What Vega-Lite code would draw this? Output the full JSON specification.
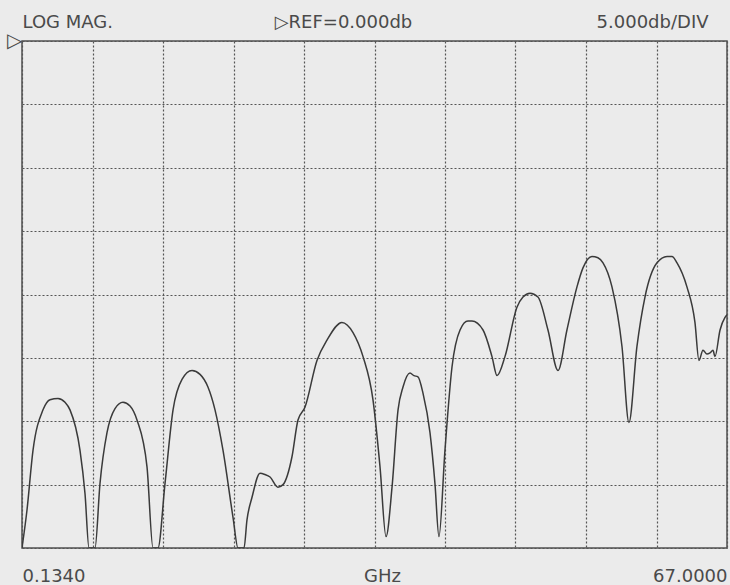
{
  "$schema": "https://vega.github.io/schema/vega-lite/v6.json",
  "width": 705,
  "height": 507,
  "autosize": {"type": "none"},
  "padding": {"left": 22, "top": 41, "right": 3, "bottom": 37},
  "background": "#ebebeb",
  "config": {
    "view": {"stroke": "#505050", "strokeWidth": 1.5, "fill": "#ebebeb"},
    "axis": {"labelFont": "DejaVu Sans", "titleFont": "DejaVu Sans", "labelColor": "#4a4a4a", "titleColor": "#4a4a4a"}
  },
  "data": {"values": [
    {"f": 0.134, "db": -40}, {"f": 0.608, "db": -37.0}, {"f": 1.177, "db": -32.3}, {"f": 2.126, "db": -29.1},
    {"f": 2.79, "db": -28.3}, {"f": 3.548, "db": -28.2}, {"f": 4.21, "db": -28.5}, {"f": 4.687, "db": -29.1},
    {"f": 5.635, "db": -32.3}, {"f": 6.109, "db": -35.7}, {"f": 6.489, "db": -40}, {"f": 7.058, "db": -40},
    {"f": 7.532, "db": -34.9}, {"f": 8.196, "db": -30.9}, {"f": 8.955, "db": -29.0}, {"f": 9.713, "db": -28.5},
    {"f": 10.38, "db": -28.8}, {"f": 11.04, "db": -29.9}, {"f": 11.99, "db": -33.6}, {"f": 12.56, "db": -40},
    {"f": 13.03, "db": -40}, {"f": 13.70, "db": -34.9}, {"f": 14.46, "db": -29.1}, {"f": 15.31, "db": -26.7},
    {"f": 16.26, "db": -26.0}, {"f": 17.02, "db": -26.3}, {"f": 17.77, "db": -27.3}, {"f": 18.44, "db": -29.1},
    {"f": 19.20, "db": -32.3}, {"f": 20.15, "db": -37.6}, {"f": 20.62, "db": -40}, {"f": 21.19, "db": -40},
    {"f": 21.47, "db": -37.8}, {"f": 21.95, "db": -36.0}, {"f": 22.71, "db": -34.1}, {"f": 23.18, "db": -34.2},
    {"f": 23.66, "db": -34.4}, {"f": 24.41, "db": -35.2}, {"f": 24.89, "db": -35.0}, {"f": 25.74, "db": -32.8},
    {"f": 26.31, "db": -29.9}, {"f": 26.97, "db": -28.9}, {"f": 28.11, "db": -25.2}, {"f": 29.06, "db": -23.6},
    {"f": 30.48, "db": -22.2}, {"f": 31.53, "db": -23.0}, {"f": 32.48, "db": -24.9}, {"f": 33.42, "db": -28.3},
    {"f": 34.09, "db": -33.6}, {"f": 34.66, "db": -39.1}, {"f": 35.23, "db": -35.2}, {"f": 35.80, "db": -29.1},
    {"f": 36.27, "db": -27.3}, {"f": 36.93, "db": -26.2}, {"f": 37.31, "db": -26.4}, {"f": 37.69, "db": -26.5},
    {"f": 38.17, "db": -27.8}, {"f": 38.83, "db": -30.9}, {"f": 39.30, "db": -34.9}, {"f": 39.68, "db": -39.1},
    {"f": 40.25, "db": -32.3}, {"f": 40.92, "db": -25.7}, {"f": 41.68, "db": -22.8}, {"f": 42.43, "db": -22.1},
    {"f": 42.81, "db": -22.1}, {"f": 43.86, "db": -22.8}, {"f": 44.71, "db": -24.9}, {"f": 45.19, "db": -26.4},
    {"f": 45.94, "db": -24.9}, {"f": 47.08, "db": -21.0}, {"f": 47.65, "db": -20.2}, {"f": 48.32, "db": -19.9},
    {"f": 49.07, "db": -20.2}, {"f": 50.02, "db": -22.8}, {"f": 50.97, "db": -26.0}, {"f": 51.82, "db": -22.8},
    {"f": 52.77, "db": -19.4}, {"f": 53.34, "db": -17.9}, {"f": 54.19, "db": -17.0}, {"f": 54.76, "db": -17.1},
    {"f": 55.24, "db": -17.5}, {"f": 56.09, "db": -19.4}, {"f": 57.04, "db": -24.1}, {"f": 57.70, "db": -30.1},
    {"f": 58.46, "db": -24.1}, {"f": 59.22, "db": -20.2}, {"f": 60.36, "db": -17.5}, {"f": 61.31, "db": -17.0},
    {"f": 61.78, "db": -17.0}, {"f": 62.26, "db": -17.5}, {"f": 63.20, "db": -19.4}, {"f": 63.96, "db": -22.2},
    {"f": 64.34, "db": -25.2}, {"f": 64.72, "db": -24.4}, {"f": 65.10, "db": -24.7}, {"f": 65.39, "db": -24.6},
    {"f": 65.67, "db": -24.4}, {"f": 65.86, "db": -24.9}, {"f": 66.34, "db": -22.8}, {"f": 66.81, "db": -21.8},
    {"f": 67.0, "db": -21.6}
  ]},
  "layer": [
    {
      "mark": {"type": "line", "color": "#3a3a3a", "strokeWidth": 1.5, "clip": true, "interpolate": "monotone"},
      "encoding": {
        "x": {
          "field": "f", "type": "quantitative",
          "scale": {"domain": [0.134, 67], "nice": false, "zero": false},
          "axis": {
            "orient": "bottom",
            "values": [0.134, 6.8206, 13.5072, 20.1938, 26.8804, 33.567, 40.2536, 46.9402, 53.6268, 60.3134, 67.0],
            "labelExpr": "datum.value < 1 ? '0.1340' : datum.value > 66.5 ? '67.0000' : ''",
            "labelAlign": {"expr": "datum.value < 1 ? 'left' : 'right'"},
            "labelFlush": false,
            "labelOverlap": false,
            "labelBaseline": "alphabetic",
            "labelFontSize": 18,
            "labelPadding": 33,
            "ticks": false,
            "domain": false,
            "grid": true,
            "gridColor": "#555555",
            "gridDash": [2, 2],
            "gridWidth": 1.2,
            "title": "GHz",
            "titleFontSize": 18,
            "titleFontWeight": "normal",
            "titleBaseline": "alphabetic",
            "titleAlign": "center",
            "titleAnchor": null,
            "titleX": 360,
            "titleY": 33
          }
        },
        "y": {
          "field": "db", "type": "quantitative",
          "scale": {"domain": [-40, 0], "nice": false, "zero": false},
          "axis": {
            "orient": "left",
            "values": [-40, -35, -30, -25, -20, -15, -10, -5, 0],
            "labelExpr": "datum.value == 0 ? '▷' : ''",
            "labelFontSize": 20,
            "labelPadding": 0,
            "labelOverlap": false,
            "labelFlush": false,
            "labelBaseline": "middle",
            "labelOffset": -1,
            "ticks": false,
            "domain": false,
            "grid": true,
            "gridColor": "#555555",
            "gridDash": [2, 2],
            "gridWidth": 1.2,
            "title": null
          }
        }
      }
    },
    {
      "mark": {"type": "point", "opacity": 0},
      "encoding": {
        "x": {
          "field": "f", "type": "quantitative",
          "axis": {
            "orient": "top",
            "values": [0.134, 30.58, 65.2],
            "labelExpr": "datum.value < 1 ? 'LOG MAG.' : datum.value > 60 ? '5.000db/DIV' : '▷REF=0.000db'",
            "labelAlign": {"expr": "datum.value < 1 ? 'left' : datum.value > 60 ? 'right' : 'center'"},
            "labelFlush": false,
            "labelOverlap": false,
            "labelBaseline": "alphabetic",
            "labelFontSize": 18,
            "labelPadding": 14,
            "ticks": false,
            "domain": false,
            "grid": false,
            "title": null
          }
        },
        "y": {"field": "db", "type": "quantitative", "axis": null}
      }
    }
  ],
  "resolve": {"axis": {"x": "independent", "y": "independent"}}
}
